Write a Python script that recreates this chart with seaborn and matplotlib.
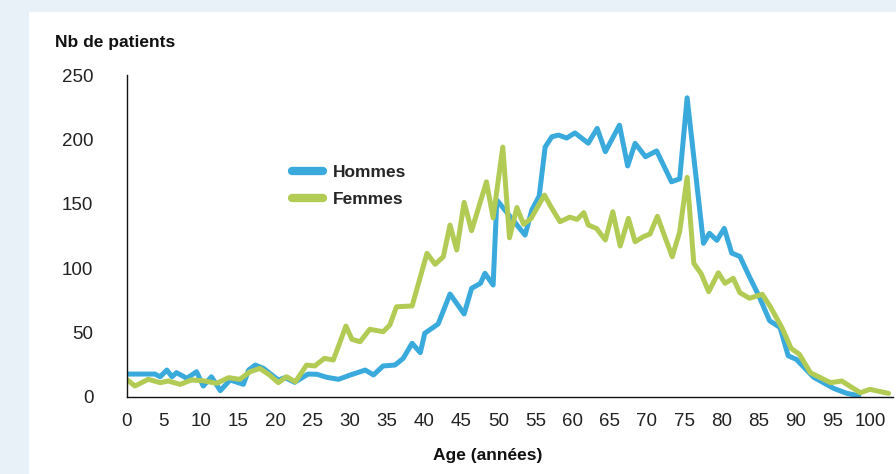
import numpy as np
import pandas as pd
import seaborn as sns
import matplotlib.pyplot as plt
from matplotlib.patches import Rectangle

# points (age, nb de patients)
hommes_age = [0, 3.8, 4.5, 5.4, 6.1, 6.7, 8.1, 9.4, 10.3, 11.4, 12.6, 13.9, 15.7, 16.4,
              17.3, 18.4, 20.4, 21.3, 22.6, 24.4, 25.6, 26.9, 28.5, 30.1, 32.1, 33.2,
              34.5, 36.1, 37.2, 38.4, 39.5, 40.1, 41.9, 43.5, 45.4, 46.4, 47.6, 48.2,
              49.3, 49.8, 53.6, 54.5, 55.5, 56.3, 57.2, 58.1, 59.2, 60.3, 62.1, 63.3,
              64.4, 66.3, 67.4, 68.4, 69.8, 71.3, 73.3, 74.4, 75.4, 77.6, 78.4, 79.4,
              80.4, 81.4, 82.5, 83.8, 85.0, 86.5, 87.9, 89.0, 90.1, 92.4, 95.1, 96.9, 98.5]
hommes_n = [17.6, 17.6, 15.5, 20.7, 15.5, 18.7, 14.3, 19.4, 8.3, 15.5, 4.7, 13, 9.6, 20.7,
            24.6, 22, 13, 14.8, 11.2, 17.6, 17.4, 15.1, 13.5, 16.9, 20.7, 16.9,
            23.9, 24.6, 29.8, 41.5, 34.2, 49.3, 56.5, 79.8, 64.3, 84.2, 88.1, 95.9,
            86.8, 152.8, 125.6, 145, 156, 194, 202, 203.3, 201, 205, 197, 208.5,
            190.4, 211, 179.3, 196.9, 186.5, 191, 167, 169.3, 232.3, 119.2, 127, 121.5,
            130.8, 111.6, 109, 93, 79, 59, 53.8, 31.8, 29, 15.2, 6.5, 2.6, 0.8]

femmes_age = [0, 1.1, 2.9, 4.5, 5.6, 7.2, 8.7, 10.3, 12.1, 13.7, 15.2, 16.6, 17.9, 19.2,
              20.4, 21.5, 22.7, 24.2, 25.3, 26.6, 27.8, 29.5, 30.3, 31.4, 32.7, 34.5,
              35.4, 36.3, 38.4, 40.4, 41.5, 42.6, 43.5, 44.4, 45.4, 46.4, 48.4, 49.3,
              50.6, 51.5, 52.5, 53.4, 54.4, 56.2, 57.2, 58.3, 59.6, 60.6, 61.5, 62.1,
              63.2, 64.4, 65.4, 66.4, 67.5, 68.4, 69.5, 70.4, 71.4, 72.4, 73.4, 74.4,
              75.4, 76.3, 77.3, 78.3, 79.6, 80.5, 81.6, 82.5, 83.8, 85.5, 86.6, 88.2,
              89.4, 90.5, 92.0, 94.7, 96.2, 98.7, 100.0, 102.5]
femmes_n = [13.5, 8.3, 13.5, 10.9, 12.2, 9.6, 13, 12.4, 10.4, 14.8, 13.5, 19.4, 22, 16.9,
            10.9, 15.5, 11.6, 24.6, 23.9, 29.8, 28.5, 54.9, 44.6, 42.7, 52.4, 50.5,
            55.7, 69.9, 70.5, 111.4, 102.9, 108.8, 133.4, 114, 151, 129, 167, 139,
            194, 123.5, 147, 134, 138.5, 156.7, 146.4, 136, 139.5, 137.8, 143, 133.4,
            130.8, 121.8, 143.7, 117.1, 138.6, 120.4, 124.3, 126.4, 140.2, 124.3, 108.8, 128.2,
            170.5, 103.6, 95.5, 81.6, 96.3, 88.1, 92, 80.8, 76.5, 79.6, 69.9, 53.1,
            37.5, 33, 18.6, 10.9, 12.2, 3.1, 5.7, 2.6]

x_ticks = list(range(0, 101, 5))
y_ticks = [0, 50, 100, 150, 200, 250]

df = pd.concat([
    pd.DataFrame({'age': hommes_age, 'n': hommes_n, 'sexe': 'Hommes'}),
    pd.DataFrame({'age': femmes_age, 'n': femmes_n, 'sexe': 'Femmes'}),
])

sns.set_style("white")
plt.rcParams['font.family'] = ['Liberation Sans', 'DejaVu Sans']

fig = plt.figure(figsize=(8.96, 4.74), dpi=100)
fig.patch.set_facecolor('#e8f0f8')
# white panel behind the axes
fig.patches.append(Rectangle((29 / 896, 0), 1, 1 - 12 / 474, transform=fig.transFigure,
                             facecolor='white', edgecolor='none', zorder=-5))

ax = fig.add_axes([126.7 / 896, 1 - 396.7 / 474, (893 - 126.7) / 896, (396.7 - 75) / 474])
ax.set_facecolor('none')

sns.lineplot(data=df, x='age', y='n', hue='sexe', sort=False, estimator=None,
             palette={'Hommes': '#3aaadc', 'Femmes': '#b2cb55'},
             linewidth=3.6, ax=ax)

ax.set_xlim(0, 103.1)
ax.set_ylim(0, 250)
ax.set_xticks(x_ticks)
ax.set_yticks(y_ticks)
ax.tick_params(axis='x', direction='out', length=4, width=1, pad=8, labelsize=13.5, colors='#222222')
ax.tick_params(axis='y', direction='out', length=5, width=1, pad=19, labelsize=13.5, colors='#222222')
for s in ['top', 'right']:
    ax.spines[s].set_visible(False)
for s in ['left', 'bottom']:
    ax.spines[s].set_color('#111111')
    ax.spines[s].set_linewidth(1)

ax.set_xlabel('Age (années)', fontsize=12.5, fontweight='bold', color='#111111')
ax.xaxis.set_label_coords((488 - 126.7) / 766.3, -0.16)
ax.set_ylabel('')
fig.text(55 / 896, 1 - 43 / 474, 'Nb de patients', fontsize=12.5, fontweight='bold',
         color='#111111', ha='left', va='center')

leg = ax.legend(frameon=False, loc='upper left', bbox_to_anchor=(0.195, 0.77),
                handlelength=1.8, handletextpad=0.55, labelspacing=0.7,
                prop={'weight': 'bold', 'size': 12.5})
for line in leg.get_lines():
    line.set_linewidth(6)

fig.savefig('out.png', dpi=100, facecolor=fig.get_facecolor())
